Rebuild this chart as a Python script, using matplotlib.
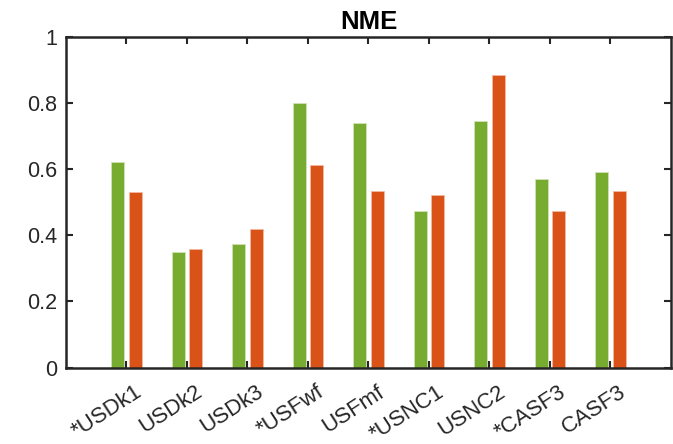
import numpy as np
import matplotlib
matplotlib.use("Agg")
import matplotlib.pyplot as plt
from matplotlib.transforms import ScaledTranslation

plt.rcParams['font.family'] = ['Liberation Sans', 'DejaVu Sans']

categories = ['*USDk1', 'USDk2', 'USDk3', '*USFwf', 'USFmf', '*USNC1', 'USNC2', '*CASF3', 'CASF3']
series_a = [0.622, 0.350, 0.375, 0.800, 0.740, 0.474, 0.746, 0.569, 0.592]
series_b = [0.530, 0.358, 0.420, 0.614, 0.535, 0.522, 0.884, 0.474, 0.534]
yticks = [0, 0.2, 0.4, 0.6, 0.8, 1]
ytick_labels = ['0', '0.2', '0.4', '0.6', '0.8', '1']

green = '#77AC30'
orange = '#D95319'
axis_color = '#262626'

fig = plt.figure(figsize=(6.73, 4.44), dpi=100)
ax = fig.add_axes([0.098, 0.172, 0.899, 0.745])

x = np.arange(1, len(categories) + 1)
w = 0.22
off = 0.145
ax.bar(x - off, series_a, width=w, color=green, edgecolor='#cfe3b3', linewidth=0.6)
ax.bar(x + off, series_b, width=w, color=orange, edgecolor='#f3b9a0', linewidth=0.6)

ax.set_xlim(0, 10)
ax.set_ylim(0, 1)
ax.set_yticks(yticks)
ax.set_yticklabels(ytick_labels)
ax.set_xticks(x)
ax.set_xticklabels(categories, rotation=33, ha='right', rotation_mode='anchor')

ax.tick_params(axis='both', direction='in', length=5, width=1.5, colors=axis_color,
               labelsize=15.5, labelcolor=axis_color, top=True, right=True, pad=6)
ax.tick_params(axis='x', labelsize=16, pad=10)
for lbl in ax.get_xticklabels():
    lbl.set_transform(lbl.get_transform() + ScaledTranslation(0.08, 0, fig.dpi_scale_trans))
for s in ax.spines.values():
    s.set_linewidth(1.8)
    s.set_color(axis_color)

ax.set_title('NME', fontsize=18.5, fontweight='bold', pad=6)

fig.savefig('out.png', dpi=100)
